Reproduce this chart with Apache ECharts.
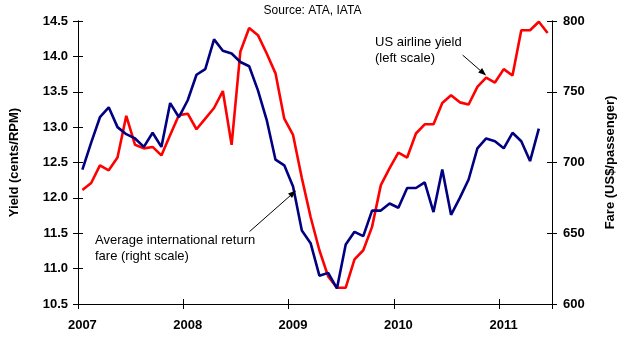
<!DOCTYPE html>
<html><head><meta charset="utf-8">
<script src="https://cdn.jsdelivr.net/npm/echarts@6/dist/echarts.min.js"></script>
<style>html,body{margin:0;padding:0;background:#fff}#c{width:625px;height:339px}</style>
</head><body><div id="c"></div>
<script>
const months = [
 '2007-01','2007-02','2007-03','2007-04','2007-05','2007-06','2007-07','2007-08','2007-09','2007-10','2007-11','2007-12',
 '2008-01','2008-02','2008-03','2008-04','2008-05','2008-06','2008-07','2008-08','2008-09','2008-10','2008-11','2008-12',
 '2009-01','2009-02','2009-03','2009-04','2009-05','2009-06','2009-07','2009-08','2009-09','2009-10','2009-11','2009-12',
 '2010-01','2010-02','2010-03','2010-04','2010-05','2010-06','2010-07','2010-08','2010-09','2010-10','2010-11','2010-12',
 '2011-01','2011-02','2011-03','2011-04','2011-05','2011-06'];
const yieldCents = [
 12.11,12.21,12.46,12.39,12.57,13.16,12.75,12.70,12.72,12.60,12.89,13.17,
 13.19,12.97,13.12,13.27,13.51,12.75,14.07,14.40,14.30,14.04,13.76,13.12,
 12.89,12.28,11.73,11.26,10.89,10.73,10.73,11.13,11.26,11.59,12.18,12.42,
 12.64,12.57,12.91,13.04,13.04,13.34,13.45,13.35,13.32,13.57,13.70,13.63,
 13.82,13.73,14.37,14.37,14.49,14.33];
const fareUSD = [
 695,714,732,739,725,720,717,711,721,711,742,732,
 744,762,766,787,779,777,771,768,751,730,702,698,
 683,652,643,620,622,611,642,651,648,666,666,671,
 668,682,682,686,665,695,663,675,688,710,717,715,
 710,721,715,701,724,null];
const leftTicks = [10.5, 14.5, 0.5];
const rightTicks = [600, 800, 50];

const FONT = 'Liberation Sans, Arial, sans-serif';
const chart = echarts.init(document.getElementById('c'), null, {renderer:'canvas'});
const lbl = {fontFamily: FONT, fontSize: 13, fontWeight: 'bold', color: '#000'};
const axLine = {show:true, lineStyle:{color:'#000', width:1}};
function yAx(pos, ticks, inside, name, gap, fmt){
  return {
    type:'value', position:pos, min:ticks[0], max:ticks[1], interval:ticks[2],
    name: inside ? '' : name, nameLocation:'middle', nameGap:gap, nameRotate:90,
    nameTextStyle:{fontFamily:FONT, fontSize:13, fontWeight:'bold', color:'#000'},
    axisLine: axLine,
    axisTick:{show:true, inside:inside, length:5, lineStyle:{color:'#000'}},
    axisLabel:{show:!inside, margin: pos==='left'?10:11, formatter:fmt, ...lbl},
    splitLine:{show:false}
  };
}
function xAx(inside){
  return {
    type:'category', data:months, boundaryGap:true, position:'bottom',
    axisLine: axLine,
    axisTick:{show:true, inside:inside, length:5, interval:11, alignWithLabel:false, lineStyle:{color:'#000'}},
    axisLabel:{show:!inside, interval:11, margin:15, formatter:v=>v.slice(0,4), ...lbl},
    splitLine:{show:false}
  };
}
chart.setOption({
  animation:false,
  backgroundColor:'#fff',
  title:{text:'Source: ATA, IATA', left:'center', top:0,
    textStyle:{fontFamily:FONT, fontSize:12, fontWeight:'normal', color:'#000'}},
  grid:{left:71, right:70, top:21, bottom:35, containLabel:false},
  xAxis:[xAx(false), xAx(true)],
  yAxis:[
    yAx('left', leftTicks, false, 'Yield (cents/RPM)', 57, v=>v.toFixed(1)),
    yAx('right', rightTicks, false, 'Fare (US$/passenger)', 52, v=>String(v)),
    yAx('left', leftTicks, true, '', 0, v=>v.toFixed(1)),
    yAx('right', rightTicks, true, '', 0, v=>String(v))
  ],
  series:[
    {name:'US airline yield', type:'line', data:yieldCents, xAxisIndex:0, yAxisIndex:0,
     symbol:'none', lineStyle:{color:'#ff0000', width:2.6}, z:2},
    {name:'Average international return fare', type:'line', data:fareUSD, xAxisIndex:0, yAxisIndex:1,
     symbol:'none', lineStyle:{color:'#000080', width:2.6}, z:3}
  ]
});

function arrow(start, tip){
  const dx = tip[0]-start[0], dy = tip[1]-start[1];
  const L = Math.sqrt(dx*dx+dy*dy), ux = dx/L, uy = dy/L;
  const hl = 8, hw = 3;
  const bx = tip[0]-ux*hl, by = tip[1]-uy*hl;
  return [
    {type:'line', shape:{x1:start[0], y1:start[1], x2:bx, y2:by}, style:{stroke:'#000', lineWidth:1}, z:10},
    {type:'polygon', shape:{points:[tip,[bx-uy*hw, by+ux*hw],[bx+uy*hw, by-ux*hw]]}, style:{fill:'#000'}, z:10}
  ];
}
const pY = chart.convertToPixel({xAxisIndex:0, yAxisIndex:0}, [46, yieldCents[46]]);
const pF = chart.convertToPixel({xAxisIndex:0, yAxisIndex:1}, [24, fareUSD[24]]);
const tipY = [pY[0], pY[1]-2];
const tipF = [pF[0]+3, pF[1]+4];
const txt = {fontFamily:FONT, fontSize:13, fill:'#000', lineHeight:16.5};
chart.setOption({
  graphic:[
    {type:'text', left:375, top:34, style:{text:'US airline yield\n(left scale)', ...txt}, z:10},
    {type:'text', left:95, top:232, style:{text:'Average international return\nfare (right scale)', ...txt}, z:10},
    ...arrow([tipY[0]-23.5, tipY[1]-20.5], tipY),
    ...arrow([tipF[0]-46.5, tipF[1]+41], tipF)
  ]
});
</script></body></html>
